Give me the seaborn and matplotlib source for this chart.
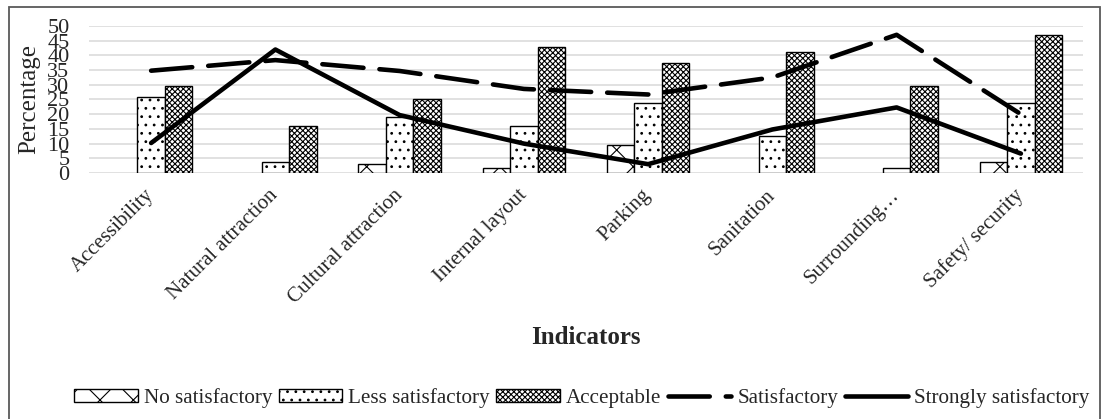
import numpy as np
import pandas as pd
import matplotlib
matplotlib.use("Agg")
import matplotlib.pyplot as plt
import matplotlib.patches as mpatches
from matplotlib.lines import Line2D
import seaborn as sns

categories = ["Accessibility", "Natural attraction", "Cultural attraction",
              "Internal layout", "Parking", "Sanitation", "Surrounding\u2026",
              "Safety/ security"]
no_satisfactory = [0, 0, 3.0, 1.8, 9.5, 0, 0, 3.9]
less_satisfactory = [25.7, 3.9, 19.1, 16.1, 23.9, 12.5, 1.8, 23.9]
acceptable = [29.5, 16.1, 25.0, 43.0, 37.3, 41.1, 29.5, 47.0]
satisfactory = [34.8, 38.4, 34.7, 28.6, 26.7, 32.5, 47.0, 20.0]
strongly_satisfactory = [10.2, 42.0, 19.7, 10.0, 3.0, 14.8, 22.3, 6.6]
bar_levels = ["No satisfactory", "Less satisfactory", "Acceptable"]
y_ticks = [0, 5, 10, 15, 20, 25, 30, 35, 40, 45, 50]

sns.set_theme(style="white")
plt.rcParams['font.family'] = ['Liberation Serif', 'DejaVu Serif']
plt.rcParams['hatch.linewidth'] = 0.8
plt.rcParams['hatch.color'] = 'black'

bars_df = pd.DataFrame({
    "Indicator": categories * 3,
    "Level": sum([[lv] * len(categories) for lv in bar_levels], []),
    "Value": no_satisfactory + less_satisfactory + acceptable,
})

fig = plt.figure(figsize=(11.1, 4.19), dpi=100)
W, H = 1110, 419
ax = fig.add_axes([89 / W, 1 - 173 / H, (1083 - 89) / W, (173 - 26) / H])

sns.barplot(data=bars_df, x="Indicator", y="Value", hue="Level",
            hue_order=bar_levels, order=categories, width=0.665,
            palette=["white"] * 3, edgecolor="black", linewidth=1.0,
            legend=False, ax=ax, saturation=1)

hatches = ["x", "..", "xxxxxx"]
for cont, hatch in zip(ax.containers, hatches):
    for bar in cont:
        bar.set_hatch(hatch)
        bar.set_facecolor("white")
        bar.set_edgecolor("black")
        if bar.get_height() == 0:
            bar.set_linewidth(0)
            bar.set_hatch(None)

line_df = pd.DataFrame({"Indicator": categories,
                        "Satisfactory": satisfactory,
                        "Strongly": strongly_satisfactory})
sns.lineplot(data=line_df, x="Indicator", y="Satisfactory", sort=False,
             color="black", linewidth=3.3, ax=ax)
sns.lineplot(data=line_df, x="Indicator", y="Strongly", sort=False,
             color="black", linewidth=3.3, ax=ax)
ln_sat, ln_str = ax.lines[-2], ax.lines[-1]
ln_sat.set_dashes((9, 3.5))
ln_sat.set_dash_capstyle("round")
ln_str.set_solid_capstyle("round")

ax.set_ylim(0, 50)
ax.set_xlim(-0.5, len(categories) - 0.5)
ax.set_yticks(y_ticks)
ax.set_yticklabels([str(t) for t in y_ticks], fontsize=16)
ax.yaxis.grid(True, color="#d9d9d9", linewidth=1.1)
ax.set_axisbelow(True)
for s in ax.spines.values():
    s.set_visible(False)
ax.tick_params(axis="both", length=0)
ax.tick_params(axis="y", pad=14)
ax.tick_params(axis="x", pad=14)
for lab in ax.get_xticklabels():
    lab.set_rotation(45)
    lab.set_ha("right")
    lab.set_va("center")
    lab.set_rotation_mode("anchor")
    lab.set_fontsize(15)

ax.set_ylabel("Percentage", fontsize=18)
ax.yaxis.label.set_va("center")
ax.yaxis.set_label_coords((29 - 89) / 994, 0.5)
ax.set_xlabel("Indicators", fontsize=18, fontweight="bold")
ax.xaxis.label.set_va("center")
ax.xaxis.set_label_coords(0.5, (173 - 337) / 147)

handles = [mpatches.Patch(facecolor="white", edgecolor="black", hatch=h, linewidth=1.0)
           for h in hatches]
handles.append(Line2D([], [], color="black", linewidth=3.3, dashes=(9, 3.5),
                      dash_capstyle="round"))
handles.append(Line2D([], [], color="black", linewidth=3.3, solid_capstyle="round"))
labels = bar_levels + ["Satisfactory", "Strongly satisfactory"]
fig.legend(handles, labels, loc="center", bbox_to_anchor=(582 / W, 1 - 398 / H),
           ncol=5, frameon=False, fontsize=15.2, handlelength=3.0,
           handleheight=0.55, handletextpad=0.3, columnspacing=0.3)

border = mpatches.Rectangle((9 / W, -0.05), (1100 - 9) / W, 0.05 + 1 - 7 / H,
                            transform=fig.transFigure, fill=False,
                            edgecolor="#595959", linewidth=1.3)
fig.patches.append(border)

fig.savefig("out.png", dpi=100)
